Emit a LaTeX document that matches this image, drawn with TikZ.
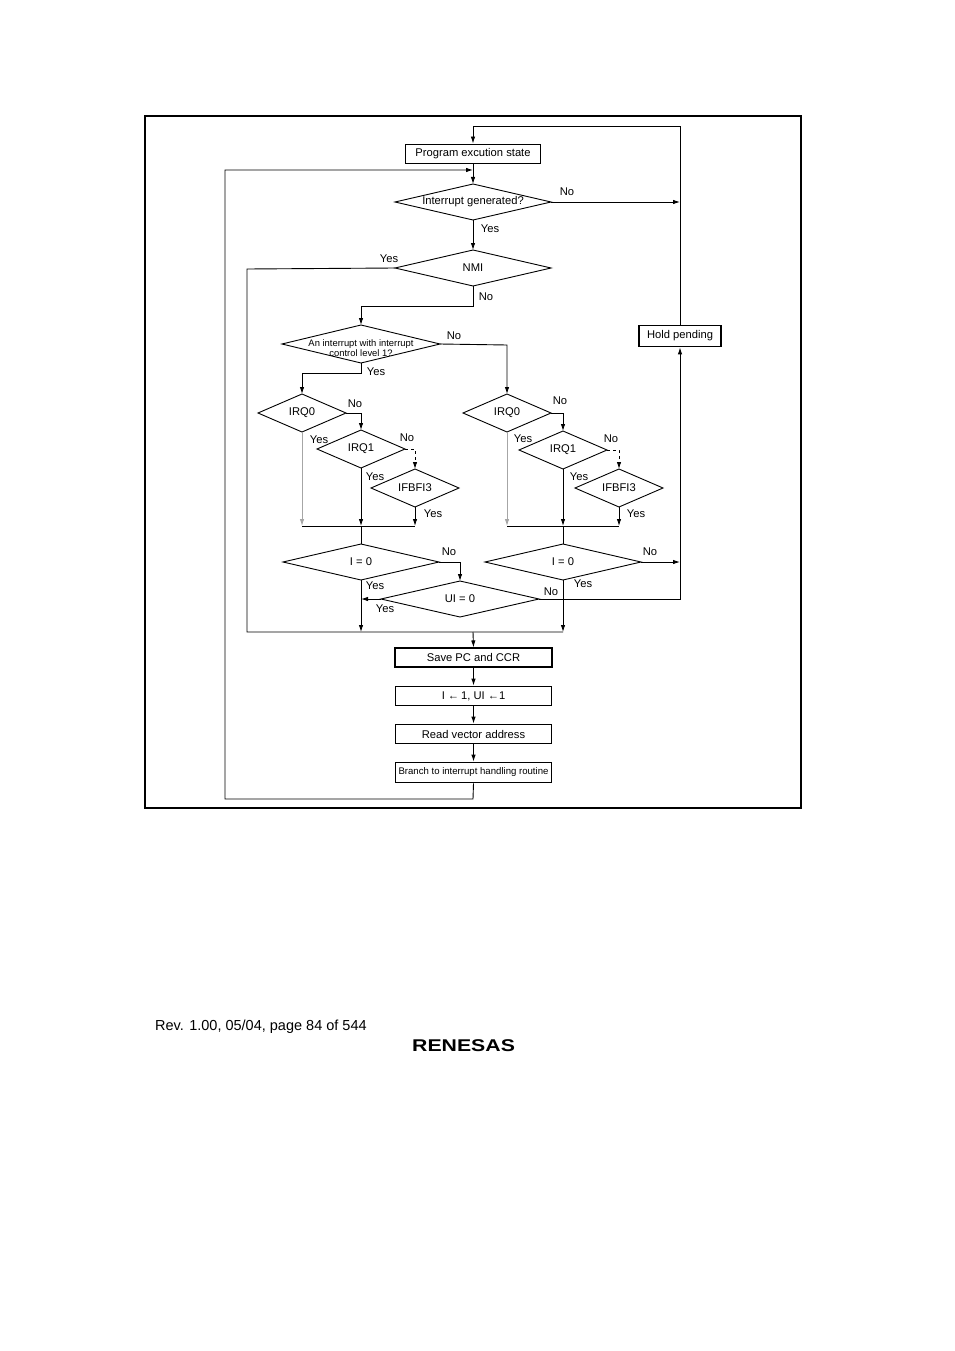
\documentclass[tikz,border=0pt]{standalone}
\usepackage{fontspec}
\setmainfont{Liberation Sans}
\usetikzlibrary{arrows.meta,shapes.geometric}
\begin{document}
\begin{tikzpicture}[x=1pt,y=-1pt,
  every node/.style={font=\fontsize{11.2}{12}\selectfont,inner sep=0pt},
  ln/.style={line width=0.9pt},
  ar/.style={ln,-{Latex[length=7pt,width=4.5pt]}},
  gr/.style={ar,draw=gray!70},
  lbl/.style={font=\fontsize{11.2}{12}\selectfont},
  tbox/.style={draw,line width=1.8pt,minimum height=19pt,minimum width=156pt}]
\useasboundingbox (0,0) rectangle (954,1351);
\draw[line width=1.4pt] (145,116) rectangle (801,808);
% nodes
\node[draw,line width=1.9pt,minimum width=135pt,minimum height=19pt] (pes) at (473,154) {Program excution state};
\draw[ln] (395,202) -- (473,184) -- (551,202) -- (473,220) -- cycle;
\node (ig) at (473,202) {Interrupt generated?};
\coordinate (igT) at (473,184); \coordinate (igB) at (473,220); \coordinate (igR) at (551,202);
\draw[ln] (395,268) -- (473,250) -- (551,268) -- (473,286) -- cycle;
\node (nmi) at (473,268) {NMI};
\coordinate (nmT) at (473,250); \coordinate (nmB) at (473,286); \coordinate (nmL) at (395,268);
\draw[ln] (282,344) -- (361,325) -- (440,344) -- (361,363) -- cycle;
\node[align=center,font=\fontsize{9.4}{9.4}\selectfont] (lv) at (361,348) {An interrupt with interrupt\\control level 1?};
\coordinate (lvT) at (361,325); \coordinate (lvB) at (361,363); \coordinate (lvR) at (440,344);
\node[draw,line width=1.8pt,minimum width=82pt,minimum height=21pt] (hp) at (680,336) {Hold pending};
% generic diamonds
\foreach \n/\cx/\cy/\hw/\hh/\t in {a0/302/413/44/19/IRQ0, a1/361/449/44/19/IRQ1, a2/415/488/44/19/IFBFI3,
  b0/507/413/44/19/IRQ0, b1/563/450/44/19/IRQ1, b2/619/488/44/19/IFBFI3,
  ia/361/562/78/18/{I = 0}, ib/563/562/78/18/{I = 0}, ui/460/599/79/18/{UI = 0}}{
  \draw[ln] (\cx-\hw,\cy) -- (\cx,\cy-\hh) -- (\cx+\hw,\cy) -- (\cx,\cy+\hh) -- cycle;
  \node (\n) at (\cx,\cy) {\t};
  \coordinate (\n T) at (\cx,\cy-\hh); \coordinate (\n B) at (\cx,\cy+\hh);
  \coordinate (\n L) at (\cx-\hw,\cy); \coordinate (\n R) at (\cx+\hw,\cy);
}
\node[draw,line width=1.1pt,minimum width=157pt,minimum height=19pt] (s1) at (473.5,657.5) {Save PC and CCR};
\node[tbox] (s2) at (473.5,696) {I \textleftarrow\,1, UI \textleftarrow 1};
\node[tbox] (s3) at (473.5,734) {Read vector address};
\node[tbox,minimum height=20pt,font=\fontsize{9.6}{10}\selectfont] (s4) at (473.5,772.5) {Branch to interrupt handling routine};
% connectors
\draw[ar] (hp.north) -- (680,126) -- (473,126) -- (pes.north);
\draw[ar] (pes.south) -- (igT);
\draw[ar] (s4.south) -- (473,799) -- (225,799) -- (225,170) -- (473,170);
\draw[ar] (igR) -- (680,202); \node[lbl] at (567,192) {No};
\draw[ar] (igB) -- (nmT); \node[lbl] at (490,229) {Yes};
\draw[ln] (nmL) -- (247,269) -- (247,632) -- (563,632); \node[lbl] at (389,259) {Yes};
\draw[ar] (nmB) -- (473,306) -- (361,306) -- (lvT); \node[lbl] at (486,297) {No};
\draw[ar] (lvR) -- (507,345) -- (b0T); \node[lbl] at (454,336) {No};
\draw[ar] (lvB) -- (361,373) -- (302,373) -- (a0T); \node[lbl] at (376,372) {Yes};
% left group
\draw[ar] (a0R) -- (361,413) -- (a1T); \node[lbl] at (355,404) {No};
\draw[gr] (a0B) -- (302,526); \node[lbl] at (319,440) {Yes};
\draw[ln,dashed,-{Latex[length=7pt,width=4.5pt]}] (a1R) -- (415,449) -- (a2T); \node[lbl] at (407,438) {No};
\draw[ar] (a1B) -- (361,526); \node[lbl] at (375,477) {Yes};
\draw[ar] (a2B) -- (415,526); \node[lbl] at (433,514) {Yes};
\draw[ln] (302,526) -- (415,526) (361,526) -- (iaT);
\draw[ar] (iaR) -- (460,562) -- (uiT); \node[lbl] at (449,552) {No};
\draw[ar] (iaB) -- (361,632); \node[lbl] at (375,586) {Yes};
\draw[ar] (uiL) -- (361,599); \node[lbl] at (385,609) {Yes};
\draw[ar] (uiR) -- (680,599) -- (hp.south); \node[lbl] at (551,592) {No};
% right group
\draw[ar] (b0R) -- (563,413) -- (b1T); \node[lbl] at (560,401) {No};
\draw[gr] (b0B) -- (507,526); \node[lbl] at (523,439) {Yes};
\draw[ln,dashed,-{Latex[length=7pt,width=4.5pt]}] (b1R) -- (619,450) -- (b2T); \node[lbl] at (611,439) {No};
\draw[ar] (b1B) -- (563,526); \node[lbl] at (579,477) {Yes};
\draw[ar] (b2B) -- (619,526); \node[lbl] at (636,514) {Yes};
\draw[ln] (507,526) -- (619,526) (563,526) -- (ibT);
\draw[ar] (ibR) -- (680,562); \node[lbl] at (650,552) {No};
\draw[ar] (ibB) -- (563,632); \node[lbl] at (583,584) {Yes};
% bottom chain
\draw[ar] (473,632) -- (s1.north);
\draw[ar] (s1.south) -- (s2.north);
\draw[ar] (s2.south) -- (s3.north);
\draw[ar] (s3.south) -- (s4.north);
% footer
\node[anchor=west,font=\fontsize{14.5}{16}\selectfont] (ft) at (155,1027) {Rev. 1.00, 05/04, page 84 of 544};
\node[anchor=west,font=\fontsize{17}{17}\selectfont\bfseries] (logo) at (412,1046) {\scalebox{1.25}[1]{RENESAS}};
\end{tikzpicture}
\end{document}
